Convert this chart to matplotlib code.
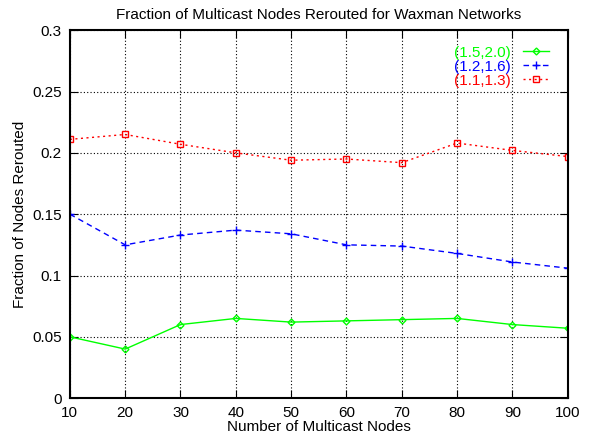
import matplotlib
matplotlib.use('Agg')
import matplotlib.pyplot as plt

plt.rcParams['font.family'] = ['Liberation Sans', 'DejaVu Sans']

nodes = [10, 20, 30, 40, 50, 60, 70, 80, 90, 100]
w_15_20 = [0.050, 0.040, 0.060, 0.065, 0.062, 0.063, 0.064, 0.065, 0.060, 0.057]
w_12_16 = [0.150, 0.125, 0.133, 0.137, 0.134, 0.125, 0.124, 0.118, 0.111, 0.106]
w_11_13 = [0.211, 0.215, 0.207, 0.200, 0.194, 0.195, 0.192, 0.208, 0.202, 0.197]

fig = plt.figure(figsize=(5.92, 4.38), dpi=100)
ax = fig.add_axes([0.118, 0.091, 0.841, 0.840])

ax.plot(nodes, w_15_20, color='#00ff00', lw=1, marker='D', ms=3.5, mfc='none', mew=1,
        label='(1.5,2.0)')
ax.plot(nodes, w_12_16, color='#0000ff', lw=1, ls=(0, (4, 3)), marker='+', ms=5.5, mew=1,
        label='(1.2,1.6)')
ax.plot(nodes, w_11_13, color='#ff0000', lw=1, ls=(0, (1.5, 2.5)), marker='s', ms=4.5, mfc='none', mew=1,
        label='(1.1,1.3)')

ax.set_xlim(10, 100)
ax.set_ylim(0, 0.3)
ax.set_xticks(nodes)
ax.set_yticks([0, 0.05, 0.1, 0.15, 0.2, 0.25, 0.3])
ax.set_yticklabels(['0', '0.05', '0.1', '0.15', '0.2', '0.25', '0.3'])
ax.grid(True, color='black', ls=(0, (1, 2)), lw=0.8)
ax.tick_params(direction='in', top=True, right=True, labelsize=11, length=6)
ax.tick_params(axis='y', pad=6)
ax.tick_params(axis='x', pad=6)
for s in ax.spines.values():
    s.set_linewidth(1.5)

ax.set_xlabel('Number of Multicast Nodes', fontsize=11, labelpad=0)
ax.set_ylabel('Fraction of Nodes Rerouted', fontsize=11)
ax.yaxis.set_label_coords(-0.086, 0.5)
ax.set_title('Fraction of Multicast Nodes Rerouted for Waxman Networks', fontsize=11, pad=8)

leg = ax.legend(loc='upper right', markerfirst=False, frameon=False, fontsize=11,
                labelcolor='linecolor', handlelength=1.7, handletextpad=0.8,
                labelspacing=0.0, borderaxespad=0.0, bbox_to_anchor=(0.975, 0.975))
for t in leg.get_texts():
    t.set_ha('right')

fig.savefig('out.png', dpi=100)
